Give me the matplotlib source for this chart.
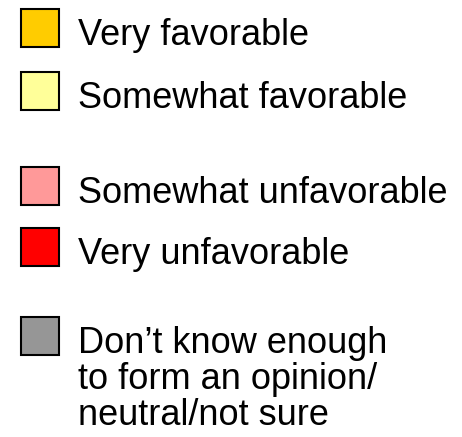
import matplotlib
matplotlib.use("Agg")
import matplotlib.pyplot as plt
from matplotlib.patches import Rectangle

# ---------- 数据 ----------
labels = [
    "Very favorable",
    "Somewhat favorable",
    "Somewhat unfavorable",
    "Very unfavorable",
    "Don\u2019t know enough\nto form an opinion/\nneutral/not sure",
]
colors = ["#FFCC00", "#FFFF99", "#FF9999", "#FF0000", "#969696"]

# ---------- 布局（像素） ----------
square_top = [9, 72, 167, 228, 317]
square_size = 38
square_x = 21
text_x = 78
line_px = 36

plt.rcParams["font.family"] = ["Liberation Sans", "DejaVu Sans"]

fig = plt.figure(figsize=(4.62, 4.37), dpi=100)
ax = fig.add_axes([0, 0, 1, 1])
ax.set_xlim(0, 462)
ax.set_ylim(437, 0)
ax.axis("off")

for lab, col, top in zip(labels, colors, square_top):
    ax.add_patch(Rectangle((square_x, top), square_size, square_size,
                           facecolor=col, edgecolor="black", lw=1.5))
    # 多行标签逐行放置，首行基线与方块对齐
    for i, line in enumerate(lab.split("\n")):
        ax.text(text_x, top + 36 + i * line_px, line, ha="left", va="baseline",
                fontsize=26, color="black")

fig.savefig("out.png", dpi=100)
